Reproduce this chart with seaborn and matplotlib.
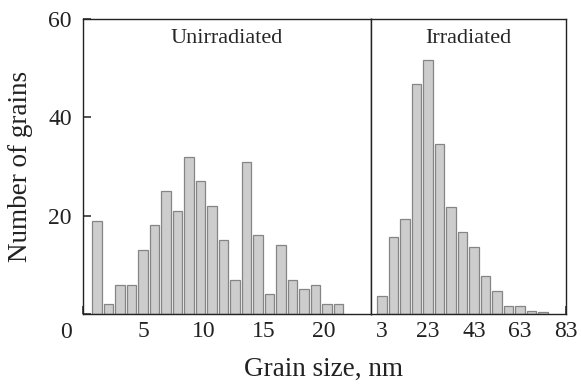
"""
Grain size distributions, unirradiated vs irradiated (two joined panels).
"""

import matplotlib
matplotlib.use("Agg")
import matplotlib.pyplot as plt
import seaborn as sns

# ---------------------------------------------------------------------------
# Data
# ---------------------------------------------------------------------------

unirr_sizes = [1.18, 2.13, 3.09, 4.04, 5.00, 5.95, 6.91, 7.86, 8.82, 9.77, 10.73,
               11.68, 12.64, 13.59, 14.55, 15.50, 16.46, 17.41, 18.37, 19.32,
               20.28, 21.23]
unirr_counts = [19, 2, 6, 6, 13, 18, 25, 21, 32, 27, 22,
                15, 7, 31, 16, 4, 14, 7, 5, 6, 2, 2]

irr_sizes = [3, 8, 13, 18, 23, 28, 33, 38, 43, 48, 53, 58, 63, 68, 73]
irr_counts = [3.7, 15.6, 19.3, 46.7, 51.7, 34.6, 21.7, 16.7, 13.7, 7.7,
              4.6, 1.6, 1.7, 0.7, 0.5]

unirr_ticks = [0, 5, 10, 15, 20]
unirr_ticklabels = ["", "5", "10", "15", "20"]
irr_ticks = [3, 23, 43, 63, 83]
y_ticks = [0, 20, 40, 60]
y_ticklabels = ["", "20", "40", "60"]

BAR_FILL = "#cdcdcd"
BAR_EDGE = "#858585"
FONT = ["Liberation Serif", "DejaVu Serif"]

# ---------------------------------------------------------------------------
# Figure
# ---------------------------------------------------------------------------

sns.set_style("ticks")
plt.rcParams["font.family"] = FONT
plt.rcParams["axes.linewidth"] = 1.0
plt.rcParams["axes.edgecolor"] = "#222222"

W, H = 581, 385
fig = plt.figure(figsize=(W / 100, H / 100), dpi=100)
ax1 = fig.add_axes([83 / W, (H - 314) / H, 288 / W, 295 / H])
ax2 = fig.add_axes([371 / W, (H - 314) / H, 195 / W, 295 / H])

bar_kw = dict(native_scale=True, width=0.84, color=BAR_FILL, saturation=1,
              edgecolor=BAR_EDGE, linewidth=0.9, errorbar=None)

sns.barplot(x=unirr_sizes, y=unirr_counts, ax=ax1, **bar_kw)
sns.barplot(x=irr_sizes, y=irr_counts, ax=ax2, **bar_kw)

for ax in (ax1, ax2):
    ax.set_ylim(0, 60)
    for s in ax.spines.values():
        s.set_visible(True)
    ax.tick_params(axis="both", direction="in", length=5.5, width=1.1,
                   labelsize=17, colors="#222222")
    ax.set_xlabel("")
    ax.set_ylabel("")

# left panel
ax1.set_xlim(0.15, 23.94)
ax1.set_xticks(unirr_ticks)
ax1.set_xticklabels(unirr_ticklabels)
ax1.set_yticks(y_ticks)
ax1.set_yticklabels(y_ticklabels)
ax1.tick_params(axis="x", pad=5)
ax1.tick_params(axis="y", pad=8)
ax1.text(0.5, 0.965, "Unirradiated", transform=ax1.transAxes,
         ha="center", va="top", fontsize=16)
ax1.text(-0.059, -0.063, "0", transform=ax1.transAxes,
         ha="center", va="center", fontsize=17, color="#222222")
ax1.set_ylabel("Number of grains", fontsize=19.5, color="#222222")
ax1.yaxis.set_label_coords(-0.172, 0.5)

# right panel
ax2.set_xlim(-1.8, 83)
ax2.set_xticks(irr_ticks)
ax2.set_xticklabels([str(t) for t in irr_ticks])
ax2.set_yticks([])
ax2.tick_params(axis="x", pad=5)
ax2.text(0.5, 0.965, "Irradiated", transform=ax2.transAxes,
         ha="center", va="top", fontsize=16)

fig.text(324 / W, (H - 376) / H, "Grain size, nm", ha="center",
         va="baseline", fontsize=19.5, color="#222222")

fig.savefig("out.png", dpi=100)
